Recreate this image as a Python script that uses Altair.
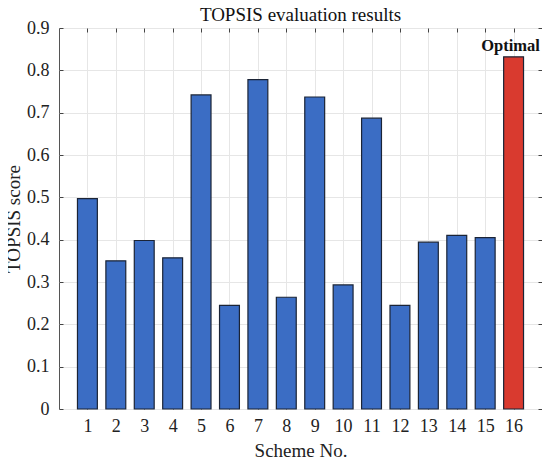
import altair as alt
import pandas as pd

schemes = list(range(1, 17))
scores = [0.497, 0.350, 0.398, 0.357, 0.742, 0.245, 0.778, 0.264,
          0.737, 0.293, 0.687, 0.245, 0.394, 0.410, 0.405, 0.832]
kinds = ["Other"] * 15 + ["Optimal"]
x_ticks = list(range(1, 17))
y_ticks = [0, 0.1, 0.2, 0.3, 0.4, 0.5, 0.6, 0.7, 0.8, 0.9]

df = pd.DataFrame({"scheme": schemes, "score": scores, "kind": kinds})

FONT = "Liberation Serif"
W, H = 483, 381

xscale = alt.Scale(domain=[0, 17], nice=False, zero=False)
yscale = alt.Scale(domain=[0, 0.9], nice=False)

base = alt.Chart(df)

bars = base.transform_calculate(
    x0="datum.scheme - 0.35", x1="datum.scheme + 0.35"
).mark_bar(stroke="#1b2436", strokeWidth=1.2).encode(
    x=alt.X("x0:Q", scale=xscale,
            axis=alt.Axis(values=x_ticks, title="Scheme No.", format="d",
                          grid=True, gridColor="#e6e6e6", domain=False,
                          offset=-4, tickSize=4, tickColor="#444",
                          labelPadding=8, titlePadding=6)),
    x2="x1:Q",
    y=alt.Y("score:Q", scale=yscale,
            axis=alt.Axis(values=y_ticks, title="TOPSIS score",
                          grid=True, gridColor="#e6e6e6", domain=False,
                          offset=-4, tickSize=4, tickColor="#444",
                          labelPadding=10, titlePadding=3,
                          labelExpr="datum.value == 0 ? '0' : format(datum.value, '.1f')")),
    y2=alt.datum(0),
    color=alt.Color("kind:N", scale=alt.Scale(domain=["Other", "Optimal"],
                                              range=["#3b6dc4", "#d93a2f"]),
                    legend=None),
)

frame = base.mark_point(opacity=0).encode(
    x=alt.X("scheme:Q", scale=xscale,
            axis=alt.Axis(values=x_ticks, orient="top", labels=False, title=None,
                          grid=False, domain=False, offset=-4, tickSize=4,
                          tickColor="#444")),
    y=alt.Y("score:Q", scale=yscale,
            axis=alt.Axis(values=y_ticks, orient="right", labels=False, title=None,
                          grid=False, domain=False, offset=-4, tickSize=4,
                          tickColor="#444")),
)

label = base.transform_filter("datum.kind == 'Optimal'").mark_text(
    text="Optimal", font=FONT, fontSize=16.5, fontWeight="bold",
    baseline="bottom", dy=-3, dx=-3, color="#111"
).encode(
    x=alt.X("scheme:Q", scale=xscale, axis=None),
    y=alt.Y("score:Q", scale=yscale, axis=None),
)

chart = alt.layer(bars, frame, label).resolve_axis(
    x="independent", y="independent"
).properties(
    width=W, height=H,
    title=alt.TitleParams("TOPSIS evaluation results", font=FONT, fontSize=19,
                          fontWeight="normal", color="#111", offset=0, dy=6),
    autosize=alt.AutoSizeParams(type="none"),
    padding={"left": 51, "top": 20, "right": 0, "bottom": 54},
).configure_view(
    stroke="#555", strokeWidth=1
).configure_axis(
    labelFont=FONT, titleFont=FONT, labelFontSize=18, titleFontSize=19,
    labelColor="#222", titleColor="#222", titleFontWeight="normal",
)

chart.save("out.html", embed_options={"renderer": "svg", "actions": False})
